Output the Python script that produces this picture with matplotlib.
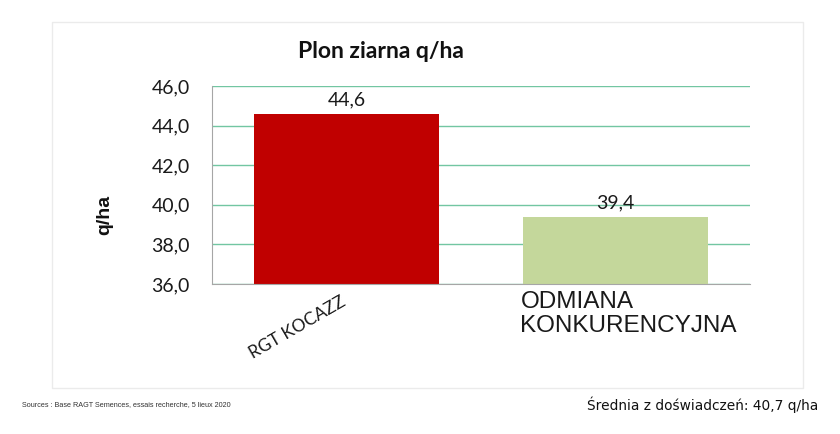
import matplotlib.pyplot as plt
from matplotlib.patches import Rectangle
import matplotlib.transforms as mtransforms

# data
odmiany = ['RGT KOCAZZ', 'ODMIANA\nKONKURENCYJNA']
plon = [44.6, 39.4]
kolory = ['#c00000', '#c4d79b']
y_ticks = [36.0, 38.0, 40.0, 42.0, 44.0, 46.0]

tytul = 'Plon ziarna q/ha'
os_y = 'q/ha'
zrodlo = 'Sources : Base RAGT Semences, essais recherche, 5 lieux 2020'
srednia = 'Średnia z doświadczeń: 40,7 q/ha'

fig = plt.figure(figsize=(8.4, 4.34), dpi=100)
fig.patch.set_facecolor('white')

# light frame around the chart area
fig.patches.append(Rectangle((0.062, 0.106), 0.894, 0.843, transform=fig.transFigure,
                             fill=False, edgecolor='#ebebeb', linewidth=1))

ax = fig.add_axes([0.2524, 0.3456, 0.6405, 0.4562])
szer = 0.685
x = list(range(len(odmiany)))
bars = ax.bar(x, plon, width=szer, color=kolory, zorder=3)

ax.set_xlim(-0.5, 1.5)
ax.set_ylim(y_ticks[0], y_ticks[-1])
ax.set_yticks(y_ticks)
ax.set_yticklabels([f'{v:.1f}'.replace('.', ',') for v in y_ticks],
                   fontfamily='Lato', fontsize=14, color='#1a1a1a')
ax.tick_params(axis='y', length=0, pad=16)
ax.set_xticks([])
ax.grid(axis='y', color='#72c6a2', linewidth=1, zorder=0)

for s in ['top', 'right']:
    ax.spines[s].set_visible(False)
ax.spines['left'].set_color('#a6a6a6')
ax.spines['bottom'].set_color('#a6a6a6')
ax.spines['bottom'].set_zorder(4)

# value labels
for b, v in zip(bars, plon):
    ax.annotate(f'{v:.1f}'.replace('.', ','), (b.get_x() + b.get_width() / 2, v),
                xytext=(0, 4), textcoords='offset points', ha='center', va='bottom',
                fontfamily='Lato', fontsize=14, color='#1a1a1a')

# category labels
trans = mtransforms.blended_transform_factory(ax.transData, ax.transAxes)
off1 = mtransforms.offset_copy(trans, fig=fig, x=-6, y=-10, units='dots')
ax.text(x[0], 0, odmiany[0], transform=off1, rotation=30, rotation_mode='anchor',
        ha='right', va='top', fontfamily='Lato', fontsize=12.5, color='#1a1a1a')
off2 = mtransforms.offset_copy(trans, fig=fig, x=-3, y=-7, units='dots')
ax.text(x[1] - szer / 2, 0, odmiany[1], transform=off2, ha='left', va='top',
        fontfamily='Liberation Sans', fontsize=17.5, color='#1a1a1a', linespacing=1.12)

fig.text(0.4536, 0.882, tytul, ha='center', va='center', fontfamily='Lato',
         fontweight='bold', fontsize=16.5, color='#111111')
fig.text(0.125, 0.5046, os_y, ha='center', va='center', rotation=90,
         fontfamily='Liberation Sans', fontweight='bold', fontsize=14, color='#111111')

fig.text(0.026, 0.067, zrodlo, ha='left', va='center',
         fontfamily=['Liberation Sans Narrow', 'Liberation Sans'], fontsize=5.2, color='#333333')
fig.text(0.974, 0.067, srednia, ha='right', va='center', fontfamily='DejaVu Sans',
         fontsize=9.9, color='#111111')

fig.savefig('out.png', dpi=100, facecolor='white')
